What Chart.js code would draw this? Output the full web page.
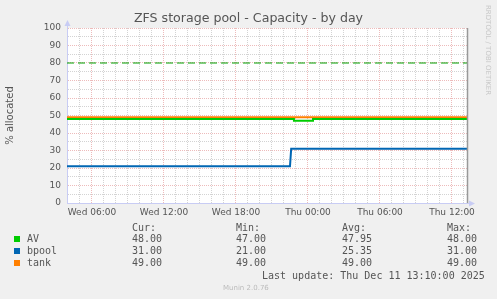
<!DOCTYPE html>
<html>
<head>
<meta charset="utf-8">
<script src="https://cdn.jsdelivr.net/npm/chart.js@4/dist/chart.umd.min.js"></script>
<style>
  body { margin: 0; background: #f0f0f0; }
  #wrap { position: relative; width: 497px; height: 299px; overflow: hidden; }
  canvas { position: absolute; left: 0; top: 0; }
  .txt { position: absolute; white-space: pre; color: #555; }
  .mono { font-family: "DejaVu Sans Mono", monospace; font-size: 10px; line-height: 12px; }
</style>
</head>
<body>
<div id="wrap">
  <canvas id="chart" width="497" height="299"></canvas>
  <div class="txt" id="title" style="left:0;width:497px;top:10px;text-align:center;font-family:'DejaVu Sans';font-size:12.6px;line-height:16px;">ZFS storage pool - Capacity - by day</div>
  <div class="txt" id="rrd" style="left:482px;top:5px;font-family:'DejaVu Sans';font-size:7px;color:#c8c8c8;transform-origin:0 0;transform:translate(10px,0) rotate(90deg);">RRDTOOL / TOBI OETIKER</div>
  <div id="legend"></div>
  <div class="txt" style="left:223px;top:284px;font-family:'DejaVu Sans';font-size:7px;color:#bbb;">Munin 2.0.76</div>
</div>
<script>
// ----------------- DATA -----------------
// x values are hours since Wed 00:00
var X_MIN = 3.92;   // Wed 03:55
var X_MAX = 37.25;  // Thu 13:15

var avTimes    = [3.92, 22.83, 22.83, 24.42, 24.42, 37.25];
var avValues   = [48,   48,    47,    47,    48,    48];

var bpoolTimes  = [3.92, 22.5, 22.6, 37.25];
var bpoolValues = [21,   21,   31,   31];

var tankTimes  = [3.92, 37.25];
var tankValues = [49,   49];

var warnLevel = 80;

// legend table
var names  = ["AV", "bpool", "tank"];
var colors = ["#00cc00", "#0066b3", "#ff8000"];
var cur = ["48.00", "31.00", "49.00"];
var min = ["47.00", "21.00", "49.00"];
var avg = ["47.95", "25.35", "49.00"];
var max = ["48.00", "31.00", "49.00"];
var lastUpdate = "Last update: Thu Dec 11 13:10:00 2025";

var MAJOR = "rgba(220,120,120,0.5)";
var MINOR = "rgba(150,150,150,0.42)";
var AXIS = "#c8ccf4";

// ----------------- HELPERS -----------------
function toPoints(t, v){
    var out = [];
    for (var i = 0; i < t.length; i++) out.push({x: t[i], y: v[i]});
    return out;
}

function hourLabel(h){
    if (h % 6 !== 0) return "";
    var day = h < 24 ? "Wed" : "Thu";
    var hh = h % 24;
    return day + " " + (hh < 10 ? "0" : "") + hh + ":00";
}

function buildLegend(){
    var el = document.getElementById("legend");
    var html = "";
    var cols = [132, 236, 342, 447];
    var heads = ["Cur:", "Min:", "Avg:", "Max:"];
    for (var c = 0; c < 4; c++)
        html += '<div class="txt mono" style="left:' + cols[c] + 'px;top:222px">' + heads[c] + '</div>';
    var rowsY = [233, 245, 257];
    for (var i = 0; i < names.length; i++){
        var y = rowsY[i];
        html += '<div style="position:absolute;left:14px;top:' + (y + 3) + 'px;width:6px;height:6px;background:' + colors[i] + '"></div>';
        html += '<div class="txt mono" style="left:27px;top:' + y + 'px">' + names[i] + '</div>';
        var vals = [cur[i], min[i], avg[i], max[i]];
        for (var c = 0; c < 4; c++)
            html += '<div class="txt mono" style="left:' + cols[c] + 'px;top:' + y + 'px">' + vals[c] + '</div>';
    }
    html += '<div class="txt mono" style="left:262px;top:270px">' + lastUpdate + '</div>';
    el.innerHTML = html;
}

// white canvas + axis arrows + right frame
var canvasPlugin = {
    id: "canvasBg",
    beforeDraw: function(chart){
        var a = chart.chartArea, ctx = chart.ctx;
        ctx.save();
        ctx.fillStyle = "#ffffff";
        ctx.fillRect(a.left, a.top, a.right - a.left, a.bottom - a.top);
        ctx.restore();
    },
    afterDraw: function(chart){
        var a = chart.chartArea, ctx = chart.ctx;
        ctx.save();
        ctx.strokeStyle = "#999";
        ctx.lineWidth = 1.5;
        ctx.beginPath();
        ctx.moveTo(Math.round(a.right) + 0.5, a.top);
        ctx.lineTo(Math.round(a.right) + 0.5, a.bottom);
        ctx.stroke();
        ctx.lineWidth = 1;
        ctx.strokeStyle = AXIS;
        ctx.beginPath();
        ctx.moveTo(a.left + 0.5, a.top);
        ctx.lineTo(a.left + 0.5, a.top - 6);
        ctx.moveTo(a.right, a.bottom + 0.5);
        ctx.lineTo(a.right + 6, a.bottom + 0.5);
        ctx.stroke();
        ctx.fillStyle = AXIS;
        ctx.beginPath();
        ctx.moveTo(a.left + 0.5, a.top - 8);
        ctx.lineTo(a.left - 2.5, a.top - 2);
        ctx.lineTo(a.left + 3.5, a.top - 2);
        ctx.fill();
        ctx.beginPath();
        ctx.moveTo(a.right + 8, a.bottom + 0.5);
        ctx.lineTo(a.right + 2, a.bottom - 2.5);
        ctx.lineTo(a.right + 2, a.bottom + 3.5);
        ctx.fill();
        ctx.restore();
    }
};

// ----------------- CHART -----------------
function drawChart(){
    new Chart(document.getElementById("chart"), {
        type: "line",
        data: {
            datasets: [
                { label: "warning", data: toPoints([X_MIN, X_MAX], [warnLevel, warnLevel]),
                  borderColor: "#00a000", borderWidth: 1, borderDash: [7, 4], pointRadius: 0 },
                { label: names[0], data: toPoints(avTimes, avValues),
                  borderColor: colors[0], borderWidth: 2, pointRadius: 0 },
                { label: names[1], data: toPoints(bpoolTimes, bpoolValues),
                  borderColor: colors[1], borderWidth: 2, pointRadius: 0 },
                { label: names[2], data: toPoints(tankTimes, tankValues),
                  borderColor: colors[2], borderWidth: 2, pointRadius: 0 }
            ]
        },
        options: {
            responsive: false,
            animation: false,
            layout: { padding: { top: 28, right: 30, left: 0, bottom: 0 } },
            plugins: { legend: { display: false }, tooltip: { enabled: false }, title: { display: false } },
            elements: { line: { tension: 0 } },
            scales: {
                x: {
                    type: "linear", min: X_MIN, max: X_MAX,
                    afterFit: function(s){ s.height = 96; },
                    ticks: {
                        stepSize: 1, autoSkip: false, maxRotation: 0, includeBounds: false,
                        padding: 4, color: "#555",
                        font: { family: "DejaVu Sans", size: 9 },
                        callback: function(v){ return hourLabel(v); }
                    },
                    grid: {
                        drawTicks: false,
                        color: function(ctx){ return ctx.tick && ctx.tick.value % 6 === 0 ? MAJOR : MINOR; }
                    },
                    border: { color: AXIS, dash: [1, 1] }
                },
                y: {
                    min: 0, max: 100,
                    afterFit: function(s){ s.width = 67; },
                    title: { display: true, text: "% allocated", color: "#555",
                             font: { family: "DejaVu Sans", size: 10 } },
                    ticks: {
                        stepSize: 5, autoSkip: false, padding: 6, color: "#555",
                        font: { family: "DejaVu Sans", size: 9 },
                        callback: function(v){ return v % 10 === 0 ? String(v) : ""; }
                    },
                    grid: {
                        drawTicks: false,
                        color: function(ctx){ return ctx.tick && ctx.tick.value % 10 === 0 ? MAJOR : MINOR; }
                    },
                    border: { color: AXIS, dash: [1, 1] }
                }
            }
        },
        plugins: [canvasPlugin]
    });
}

buildLegend();
drawChart();
</script>
</body>
</html>
